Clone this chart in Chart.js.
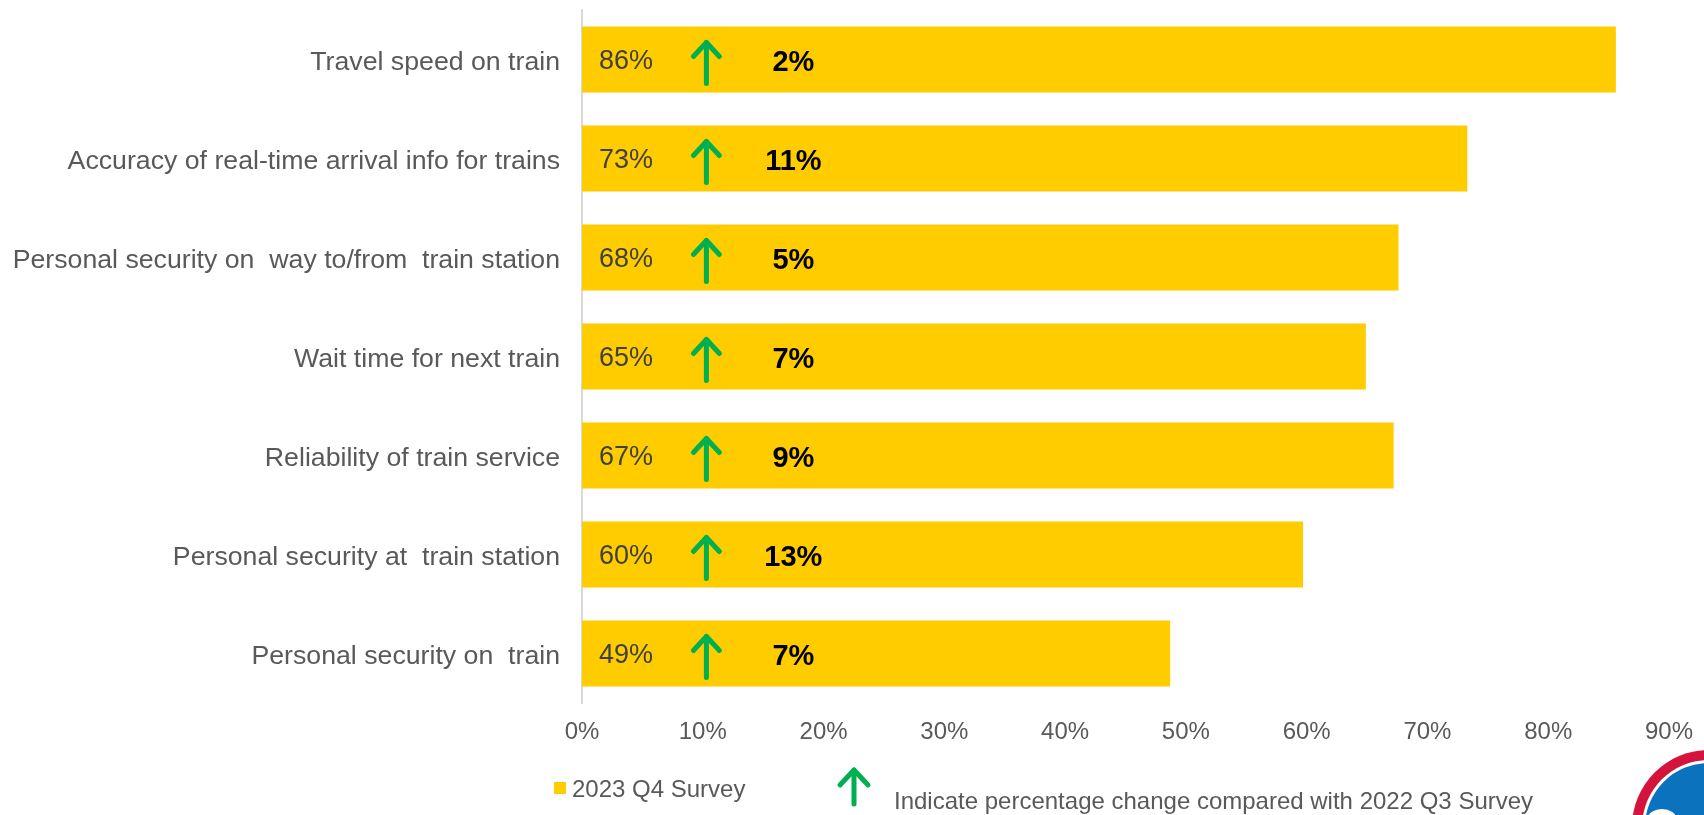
<!DOCTYPE html>
<html>
<head>
<meta charset="utf-8">
<title>Train service satisfaction</title>
<script src="https://cdn.jsdelivr.net/npm/chart.js@4/dist/chart.umd.min.js"></script>
<style>
  html, body { margin: 0; padding: 0; background: #ffffff; }
  #wrap { position: relative; width: 1704px; height: 815px; }
</style>
</head>
<body>
<div id="wrap"><canvas id="chart" width="1704" height="815"></canvas></div>
<script>
// Survey attributes, top to bottom
const categories = [
  'Travel speed on train',
  'Accuracy of real-time arrival info for trains',
  'Personal security on  way to/from  train station',
  'Wait time for next train',
  'Reliability of train service',
  'Personal security at  train station',
  'Personal security on  train'
];
// 2023 Q4 satisfaction (%)
const surveyValues = [85.6, 73.3, 67.6, 64.9, 67.2, 59.7, 48.7];
// Increase versus the 2022 Q3 survey (percentage points)
const changeValues = [2, 11, 5, 7, 9, 13, 7];
// Axis ticks (%)
const tickValues = [0, 10, 20, 30, 40, 50, 60, 70, 80, 90];

const FONT = "'Liberation Sans', Arial, sans-serif";
const GREEN = '#00B050';
const YELLOW = '#FFCC00';

function drawArrow(ctx, x, yTop, yBottom, headHalf, headLen, width) {
  ctx.save();
  ctx.strokeStyle = GREEN;
  ctx.lineWidth = width;
  ctx.lineCap = 'round';
  ctx.lineJoin = 'round';
  ctx.beginPath();
  ctx.moveTo(x, yBottom);
  ctx.lineTo(x, yTop);
  ctx.stroke();
  ctx.beginPath();
  ctx.moveTo(x - headHalf, yTop + headLen);
  ctx.lineTo(x, yTop);
  ctx.lineTo(x + headHalf, yTop + headLen);
  ctx.stroke();
  ctx.restore();
}

// Value, arrow and change annotations inside each bar
const barAnnotations = {
  id: 'barAnnotations',
  afterDatasetsDraw(chart) {
    const ctx = chart.ctx;
    const xs = chart.scales.x;
    const meta = chart.getDatasetMeta(0);
    ctx.save();
    meta.data.forEach((bar, i) => {
      const yc = bar.y;
      ctx.textBaseline = 'middle';
      ctx.font = '27px ' + FONT;
      ctx.fillStyle = '#404040';
      ctx.textAlign = 'left';
      ctx.fillText(Math.round(surveyValues[i]) + '%', xs.getPixelForValue(1.4), yc + 2);
      drawArrow(ctx, xs.getPixelForValue(10.3), yc - 17, yc + 24, 13, 14, 5);
      ctx.font = 'bold 29px ' + FONT;
      ctx.fillStyle = '#000000';
      ctx.textAlign = 'center';
      ctx.fillText(changeValues[i] + '%', xs.getPixelForValue(17.5), yc + 3);
    });
    ctx.restore();
  }
};

// Legend row and corner emblem
const footer = {
  id: 'footer',
  afterDraw(chart) {
    const ctx = chart.ctx;
    ctx.save();
    ctx.fillStyle = YELLOW;
    ctx.fillRect(554, 782, 12, 12);
    ctx.font = '24px ' + FONT;
    ctx.fillStyle = '#595959';
    ctx.textAlign = 'left';
    ctx.textBaseline = 'middle';
    ctx.fillText('2023 Q4 Survey', 572, 790);
    drawArrow(ctx, 854, 770, 804, 14, 15, 5);
    ctx.fillText('Indicate percentage change compared with 2022 Q3 Survey', 894, 802);

    // emblem, partly outside the page corner
    const cx = 1709, cy = 827;
    ctx.beginPath(); ctx.arc(cx, cy, 77, 0, Math.PI * 2); ctx.fillStyle = '#D4143C'; ctx.fill();
    ctx.beginPath(); ctx.arc(cx, cy, 67, 0, Math.PI * 2); ctx.fillStyle = '#ffffff'; ctx.fill();
    ctx.beginPath(); ctx.arc(cx, cy, 64, 0, Math.PI * 2); ctx.fillStyle = '#0B72BE'; ctx.fill();
    ctx.beginPath();
    ctx.ellipse(1662, 818, 14, 9, 0, 0, Math.PI * 2);
    ctx.fillStyle = '#ffffff';
    ctx.fill();
    ctx.restore();
  }
};

function noEdgePadding(scale) {
  scale.paddingTop = 0;
  scale.paddingBottom = 0;
  scale.paddingLeft = 0;
  scale.paddingRight = 0;
}

new Chart(document.getElementById('chart'), {
  type: 'bar',
  data: {
    labels: categories,
    datasets: [{
      label: '2023 Q4 Survey',
      data: surveyValues,
      backgroundColor: YELLOW,
      borderWidth: 0,
      barPercentage: 0.667,
      categoryPercentage: 1.0
    }]
  },
  options: {
    indexAxis: 'y',
    responsive: false,
    animation: false,
    devicePixelRatio: 1,
    layout: { padding: { top: 10, right: 35, bottom: 0, left: 0 } },
    plugins: {
      legend: { display: false },
      tooltip: { enabled: false }
    },
    scales: {
      x: {
        min: 0,
        max: 90,
        afterFit(scale) { scale.height = 112; noEdgePadding(scale); },
        afterBuildTicks(scale) { scale.ticks = tickValues.map(v => ({ value: v })); },
        grid: { display: false, drawTicks: false },
        border: { display: false },
        ticks: {
          padding: 15,
          color: '#595959',
          font: { family: FONT, size: 24 },
          callback: v => v + '%'
        }
      },
      y: {
        afterFit(scale) { scale.width = 582; noEdgePadding(scale); },
        grid: { display: false, drawTicks: false },
        border: { display: true, color: '#D9D9D9', width: 2 },
        ticks: {
          padding: 22,
          labelOffset: 3,
          color: '#595959',
          font: { family: FONT, size: 26.7 }
        }
      }
    }
  },
  plugins: [barAnnotations, footer]
});
</script>
</body>
</html>
